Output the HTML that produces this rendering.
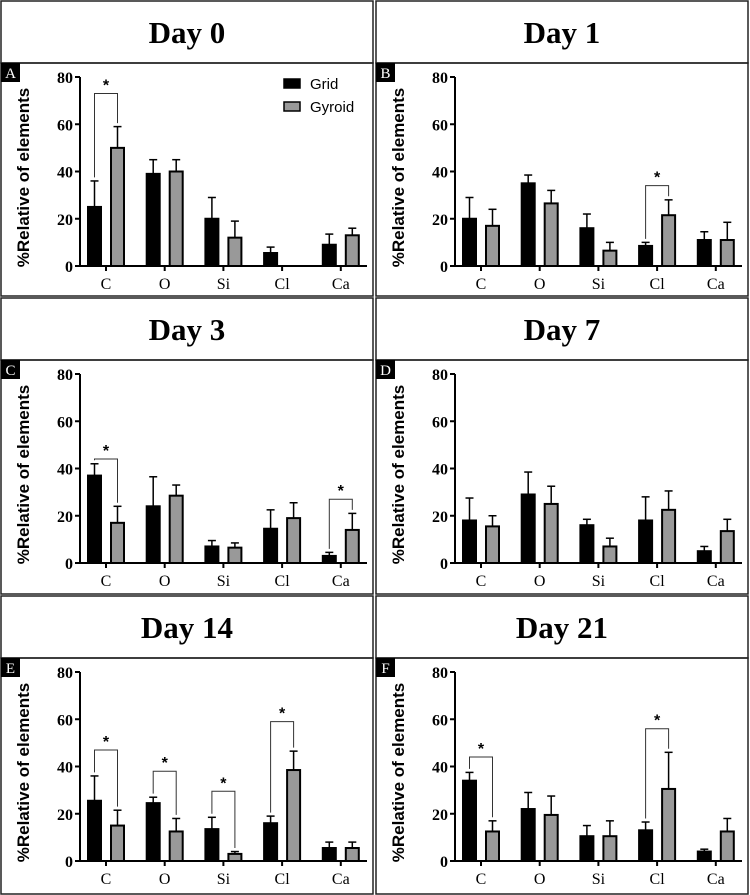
<!DOCTYPE html>
<html><head><meta charset="utf-8"><style>
body{margin:0;background:#fff}
svg{display:block}
</style></head><body>
<svg id="fig" width="750" height="895" viewBox="0 0 750 895" xmlns="http://www.w3.org/2000/svg"></svg>
<script>
const categories=["C","O","Si","Cl","Ca"];
const yTicks=[0,20,40,60,80];
const panelTitles=["Day 0","Day 1","Day 3","Day 7","Day 14","Day 21"];
const panelLetters=["A","B","C","D","E","F"];
const gridA=[25,39,20,5.5,9], gridErrA=[36,45,29,8,13.5];
const gyrA=[50,40,12,0,13], gyrErrA=[59,45,19,0,16];
const gridB=[20,35,16,8.5,11], gridErrB=[29,38.5,22,10,14.5];
const gyrB=[17,26.5,6.5,21.5,11], gyrErrB=[24,32,10,28,18.5];
const gridC=[37,24,7,14.5,3], gridErrC=[42,36.5,9.5,22.5,4.5];
const gyrC=[17,28.5,6.5,19,14], gyrErrC=[24,33,8.5,25.5,21];
const gridD=[18,29,16,18,5], gridErrD=[27.5,38.5,18.5,28,7];
const gyrD=[15.5,25,7,22.5,13.5], gyrErrD=[20,32.5,10.5,30.5,18.5];
const gridE=[25.5,24.5,13.5,16,5.5], gridErrE=[36,27,18.5,19,8];
const gyrE=[15,12.5,3,38.5,5.5], gyrErrE=[21.5,18,4,46.5,8];
const gridF=[34,22,10.5,13,4], gridErrF=[37.5,29,15,16.5,5];
const gyrF=[12.5,19.5,10.5,30.5,12.5], gyrErrF=[17,27.5,17,46,18];
const sigA=[[0,73]], sigB=[[3,34]], sigC=[[0,44],[4,27]], sigD=[];
const sigE=[[0,47],[1,38],[2,29.5],[3,59]], sigF=[[0,44],[3,56]];
const panels=[
 [gridA,gridErrA,gyrA,gyrErrA,sigA],[gridB,gridErrB,gyrB,gyrErrB,sigB],
 [gridC,gridErrC,gyrC,gyrErrC,sigC],[gridD,gridErrD,gyrD,gyrErrD,sigD],
 [gridE,gridErrE,gyrE,gyrErrE,sigE],[gridF,gridErrF,gyrF,gyrErrF,sigF]];
const svg=document.getElementById('fig');
const NS="http://www.w3.org/2000/svg";
function mk(tag,attrs,parent){const e=document.createElementNS(NS,tag);for(const k in attrs)e.setAttribute(k,attrs[k]);(parent||svg).appendChild(e);return e;}
const rowTops=[0,297,595];
const headH=63;
panels.forEach((p,i)=>{
 const col=i%2,row=Math.floor(i/2);
 const ox=col*375, oy=rowTops[row];
 const g=mk('g',{});
 
 
 const hb=mk('rect',{x:ox+1,y:oy+1,width:372,height:headH-1,fill:'#fff',stroke:'#222','stroke-width':1.5},g);
 
 const ht=mk('text',{x:ox+187,y:oy+43,'text-anchor':'middle','font-family':'Liberation Serif, serif','font-weight':'bold','font-size':31},g);
 ht.textContent=panelTitles[i];
 
 const pTop=oy+headH, pH=(row==2?895:rowTops[row+1])-pTop-1;
 const pb=mk('rect',{x:ox+1,y:pTop,width:372,height:pH,fill:'none',stroke:'#222','stroke-width':1.5},g);
 
 const lb=mk('rect',{x:ox+1,y:pTop,width:19,height:19,fill:'#000'},g);
 
 const lt=mk('text',{x:ox+10.5,y:pTop+15,'text-anchor':'middle',fill:'#fff','font-family':'Liberation Serif, serif','font-size':15},g);
 lt.textContent=panelLetters[i];
 const ax=ox+80, y0=pTop+203, y80=pTop+14;
 const Y=v=>y0-(v/80)*(y0-y80);
 const X=c=>ax+26+c*58.7;
 const yt=mk('text',{transform:`translate(${ox+29},${(y0+y80)/2+6}) rotate(-90)`,'text-anchor':'middle','font-family':'Liberation Sans, sans-serif','font-weight':'bold','font-size':17},g);
 yt.textContent='%Relative of elements';
 
 mk('line',{x1:ax,y1:y80,x2:ax,y2:y0+1,stroke:'#000','stroke-width':2},g);
 mk('line',{x1:ax-1,y1:y0,x2:ox+367,y2:y0,stroke:'#000','stroke-width':2},g);
 yTicks.forEach(t=>{
  mk('line',{x1:ax-5,y1:Y(t),x2:ax,y2:Y(t),stroke:'#000','stroke-width':2},g);
  const tl=mk('text',{x:ax-7,y:Y(t)+6,'text-anchor':'end','font-family':'Liberation Serif, serif','font-weight':'bold','font-size':16},g);
  tl.textContent=t;
  
 });
 const [gr,ge,gy,gye,sig]=p;
 categories.forEach((c,j)=>{
  const cx=X(j);
  mk('line',{x1:cx,y1:y0,x2:cx,y2:y0+5,stroke:'#000','stroke-width':2},g);
  const xl=mk('text',{x:cx,y:y0+23,'text-anchor':'middle','font-family':'Liberation Serif, serif','font-size':16},g);
  xl.textContent=c;
  
  [[gr[j],ge[j],cx-18,'#000','bar-grid'],[gy[j],gye[j],cx+5,'#999','bar-gyroid']].forEach(([v,e,bx,fill,nm])=>{
   if(v<=0)return;
   const ex=bx+6.5;
   mk('line',{x1:ex,y1:Y(e),x2:ex,y2:Y(v),stroke:'#000','stroke-width':1.5},g);
   mk('line',{x1:ex-4,y1:Y(e),x2:ex+4,y2:Y(e),stroke:'#000','stroke-width':1.5},g);
   const r=mk('rect',{x:bx,y:Y(v),width:13,height:y0-Y(v),fill:fill,stroke:'#000','stroke-width':2},g);
   
   
  });
 });
 sig.forEach(([j,lvl])=>{
  const x1=X(j)-11.5,x2=X(j)+11.5,yb=Y(lvl);
  const l1=Y(ge[j]+1.5),l2=Y(Math.max(gye[j],gy[j])+1.5);
  const pl=mk('polyline',{points:`${x1},${l1} ${x1},${yb} ${x2},${yb} ${x2},${l2}`,fill:'none',stroke:'#333','stroke-width':1},g);
  
  const st=mk('text',{x:X(j),y:yb-3,'text-anchor':'middle','font-family':'Liberation Sans, sans-serif','font-weight':'bold','font-size':16},g);
  st.textContent='*';
 });
 if(i===0){
  const lg=mk('g',{},g);
  
  mk('rect',{x:ox+284,y:pTop+16,width:16,height:9,fill:'#000',stroke:'#000','stroke-width':1.5},lg);
  const t1=mk('text',{x:ox+310,y:pTop+26,'font-family':'Liberation Sans, sans-serif','font-size':15},lg);t1.textContent='Grid';
  mk('rect',{x:ox+284,y:pTop+39,width:16,height:9,fill:'#999',stroke:'#000','stroke-width':1.5},lg);
  const t2=mk('text',{x:ox+310,y:pTop+49,'font-family':'Liberation Sans, sans-serif','font-size':15},lg);t2.textContent='Gyroid';
 }
});
</script>
</body></html>
